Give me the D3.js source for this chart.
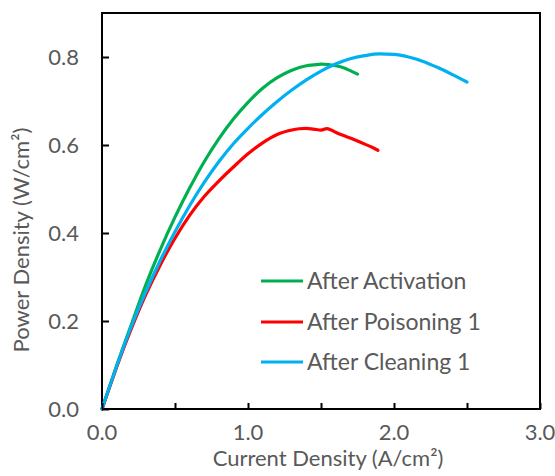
<!DOCTYPE html>
<html>
<head>
<meta charset="utf-8">
<script src="https://cdn.jsdelivr.net/npm/d3@7"></script>
<style>
  html, body { margin: 0; padding: 0; background: #fff; }
  svg { display: block; }
  text { font-family: Lato, "Open Sans", sans-serif; fill: #595959; }
</style>
</head>
<body>
<svg id="chart" width="555" height="476"></svg>
<script>
// Polarization power curves: current density (A/cm²) vs power density (W/cm²)
const seriesNames = ["After Activation", "After Poisoning 1", "After Cleaning 1"];
const seriesColors = ["#00B050", "#FF0000", "#00B0F0"];

const activationCurrent = [0, 0.05, 0.10, 0.20, 0.30, 0.40, 0.50, 0.60, 0.70, 0.80, 0.90, 1.00, 1.10, 1.20, 1.30, 1.40, 1.45, 1.50, 1.55, 1.60, 1.65, 1.70, 1.75];
const activationPower   = [0, 0.049, 0.098, 0.191, 0.282, 0.363, 0.436, 0.502, 0.562, 0.614, 0.659, 0.697, 0.729, 0.753, 0.770, 0.780, 0.782, 0.784, 0.783, 0.780, 0.776, 0.769, 0.761];

const poisoningCurrent = [0, 0.05, 0.10, 0.20, 0.30, 0.40, 0.50, 0.60, 0.70, 0.80, 0.90, 1.00, 1.10, 1.20, 1.30, 1.35, 1.40, 1.45, 1.50, 1.54, 1.57, 1.60, 1.65, 1.70, 1.75, 1.80, 1.85, 1.89];
const poisoningPower   = [0, 0.048, 0.095, 0.182, 0.260, 0.328, 0.388, 0.440, 0.483, 0.518, 0.550, 0.580, 0.605, 0.624, 0.634, 0.637, 0.638, 0.636, 0.634, 0.637, 0.634, 0.629, 0.622, 0.616, 0.609, 0.602, 0.595, 0.588];

const cleaningCurrent = [0, 0.05, 0.10, 0.20, 0.30, 0.40, 0.50, 0.60, 0.70, 0.80, 0.90, 1.00, 1.10, 1.20, 1.30, 1.40, 1.50, 1.60, 1.70, 1.80, 1.90, 2.00, 2.10, 2.20, 2.30, 2.40, 2.50];
const cleaningPower   = [0, 0.049, 0.097, 0.187, 0.266, 0.338, 0.403, 0.462, 0.515, 0.562, 0.603, 0.638, 0.670, 0.699, 0.725, 0.748, 0.768, 0.784, 0.796, 0.803, 0.807, 0.806, 0.800, 0.790, 0.776, 0.760, 0.743];

const xTicks = [0, 1, 2, 3];
const xMinorTicks = [0.5, 1.5, 2.5];
const yTicks = [0, 0.2, 0.4, 0.6, 0.8];
const xTitle = "Current Density (A/cm²)";
const yTitle = "Power Density (W/cm²)";

const series = [
  { name: seriesNames[0], color: seriesColors[0], x: activationCurrent, y: activationPower },
  { name: seriesNames[1], color: seriesColors[1], x: poisoningCurrent, y: poisoningPower },
  { name: seriesNames[2], color: seriesColors[2], x: cleaningCurrent, y: cleaningPower }
];

const svg = d3.select("#chart");
const plot = { left: 102, right: 540, top: 13, bottom: 409 };

const x = d3.scaleLinear().domain([0, 3]).range([plot.left, plot.right]);
const y = d3.scaleLinear().domain([0, 0.9]).range([plot.bottom, plot.top]);

// frame
svg.append("rect")
  .attr("x", plot.left).attr("y", plot.top)
  .attr("width", plot.right - plot.left).attr("height", plot.bottom - plot.top)
  .attr("fill", "none").attr("stroke", "#000").attr("stroke-width", 2);

// curves
const line = d3.line().x(d => x(d[0])).y(d => y(d[1])).curve(d3.curveMonotoneX);
series.forEach(s => {
  svg.append("path")
    .datum(s.x.map((v, i) => [v, s.y[i]]))
    .attr("d", line)
    .attr("fill", "none")
    .attr("stroke", s.color)
    .attr("stroke-width", 3.2)
    .attr("stroke-linejoin", "round")
    .attr("stroke-linecap", "round");
});

// x axis ticks (pointing into the plot) and labels
const xAxis = svg.append("g").attr("transform", `translate(0,${plot.bottom})`)
  .call(d3.axisBottom(x).tickValues(xTicks.concat(xMinorTicks)).tickSizeInner(-6).tickSizeOuter(0).tickFormat(""));
xAxis.select(".domain").remove();
xAxis.selectAll(".tick line").attr("stroke", "#000").attr("stroke-width", 2);

svg.append("g").selectAll("text").data(xTicks).join("text")
  .attr("x", d => x(d)).attr("y", 440)
  .attr("text-anchor", "middle")
  .style("font-size", "22px")
  .text(d => d3.format(".1f")(d));

// y axis ticks and labels
const yAxis = svg.append("g").attr("transform", `translate(${plot.left},0)`)
  .call(d3.axisLeft(y).tickValues(yTicks).tickSizeInner(-7).tickSizeOuter(0).tickFormat(""));
yAxis.select(".domain").remove();
yAxis.selectAll(".tick line").attr("stroke", "#000").attr("stroke-width", 2);

svg.append("g").selectAll("text").data(yTicks).join("text")
  .attr("x", 79).attr("y", d => y(d))
  .attr("dy", "0.35em")
  .attr("text-anchor", "end")
  .style("font-size", "22px")
  .text(d => d3.format(".1f")(d));

// axis titles
svg.append("text")
  .attr("x", 328).attr("y", 466)
  .attr("text-anchor", "middle")
  .style("font-size", "22px")
  .text(xTitle);

svg.append("text")
  .attr("transform", "translate(29,240) rotate(-90)")
  .attr("text-anchor", "middle")
  .style("font-size", "22px")
  .text(yTitle);

// legend
const legendY = [281, 322, 362];
const legend = svg.append("g");
series.forEach((s, i) => {
  legend.append("line")
    .attr("x1", 261).attr("x2", 303)
    .attr("y1", legendY[i]).attr("y2", legendY[i])
    .attr("stroke", s.color).attr("stroke-width", 3.2);
  legend.append("text")
    .attr("x", 307).attr("y", legendY[i])
    .attr("dy", "0.35em")
    .style("font-size", "23px")
    .text(s.name);
});
</script>
</body>
</html>
